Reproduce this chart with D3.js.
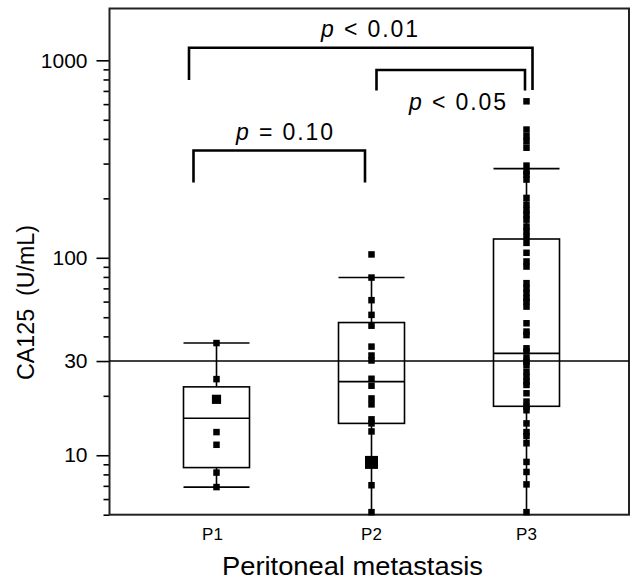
<!DOCTYPE html>
<html>
<head>
<meta charset="utf-8">
<script src="https://cdn.jsdelivr.net/npm/d3@7"></script>
<style>
  body { margin: 0; background: #fff; }
  text { font-family: "Liberation Sans", Arial, sans-serif; fill: #000; }
</style>
</head>
<body>
<div class="chart"></div>
<script>
// groups and box statistics (CA125, U/mL)
const groups = ["P1", "P2", "P3"];
const whiskerLow = [6.9, 5, 5];
const q1 = [8.66, 14.5, 17.7];
const medians = [15.4, 23.6, 32.8];
const q3 = [22.2, 47, 124.5];
const whiskerHigh = [37, 79.4, 283];
const cutoff = 30;

// individual patients (repeated values = overlapping points)
const p1Values = [37, 24.3, 19.2, 19.2, 13.1, 11.3, 8.17, 6.9];
const p2Values = [104, 79.4, 61, 51.4, 45.3, 35.5, 32, 30.2, 24.4, 22.5, 19.4, 18.1,
  15.2, 14.5, 13.2, 9.2, 9.2, 9.2, 9.2, 7.05, 5.15];
const p3Values = [620, 446, 413, 389, 361, 293, 274, 264, 249, 201, 186, 174, 165, 156,
  144, 136, 128, 119, 106, 95.8, 90.3, 74.4, 70.2, 66.2, 62.4, 60, 56.6, 46.6, 42.3,
  40.6, 34.8, 33.5, 31, 29.8, 28.6, 26.5, 25, 23.6, 22.7, 20.6, 18.7, 17.6, 16.9, 14.5,
  13.1, 12.5, 11.5, 9.25, 8.23, 7.12, 5.15];

const yTickValues = [10, 30, 100, 1000];
const comparisons = [
  { from: "P1", to: "P3", label: "0.01", op: "<" },
  { from: "P2", to: "P3", label: "0.05", op: "<" },
  { from: "P1", to: "P2", label: "0.10", op: "=" }
];

function init() {
  createChart(".chart");
}

function createChart(id) {
  const W = 633, H = 581;
  const margin = { top: 8.5, right: 4, bottom: 66.3, left: 109.5 };
  const width = W - margin.left - margin.right;
  const height = H - margin.top - margin.bottom;

  const svg = d3.select(id).append("svg")
    .attr("width", W)
    .attr("height", H)
    .append("g")
    .attr("transform", `translate(${margin.left},${margin.top})`);

  const x = d3.scalePoint().domain(groups).range([107, 417]);
  const y = d3.scaleLog().domain([5, 1830]).range([height, 0]);
  const boxW = 66;

  // minor ticks (2..9 of each decade)
  const minor = [];
  [1, 10, 100, 1000].forEach(d => {
    for (let k = 2; k <= 9; k++) {
      const v = d * k;
      if (v >= 5 && v <= 1830 && !yTickValues.includes(v)) minor.push(v);
    }
  });
  svg.append("g")
    .call(d3.axisLeft(y).tickValues(minor).tickSize(6).tickFormat(""))
    .call(g => g.select(".domain").remove())
    .selectAll("line").attr("stroke-width", 1.6);

  const yAxis = svg.append("g")
    .call(d3.axisLeft(y).tickValues(yTickValues).tickSize(13).tickPadding(9).tickFormat(d3.format("d")));
  yAxis.select(".domain").remove();
  yAxis.selectAll("line").attr("stroke-width", 1.6);
  yAxis.selectAll("text").style("font-size", "21px");

  // frame
  svg.append("rect")
    .attr("width", width).attr("height", height)
    .attr("fill", "none").attr("stroke", "#222").attr("stroke-width", 2);

  // x tick labels
  svg.append("g").selectAll("text")
    .data(groups).join("text")
    .attr("x", d => x(d) - (d === "P1" ? 4 : 0))
    .attr("y", height + 25)
    .attr("text-anchor", "middle")
    .style("font-size", "17px")
    .text(d => d);

  // 30 U/mL cutoff
  svg.append("line")
    .attr("x1", 0).attr("x2", width)
    .attr("y1", y(cutoff)).attr("y2", y(cutoff))
    .attr("stroke", "#000").attr("stroke-width", 1.6);

  // boxes
  const stats = groups.map((g, i) => ({
    g, lo: whiskerLow[i], q1: q1[i], med: medians[i], q3: q3[i], hi: whiskerHigh[i]
  }));
  const box = svg.append("g").selectAll("g").data(stats).join("g")
    .attr("stroke", "#000").attr("stroke-width", 1.6).attr("fill", "none");
  box.append("line")
    .attr("x1", d => x(d.g)).attr("x2", d => x(d.g))
    .attr("y1", d => y(d.hi)).attr("y2", d => y(d.q3));
  box.append("line")
    .attr("x1", d => x(d.g)).attr("x2", d => x(d.g))
    .attr("y1", d => y(d.q1)).attr("y2", d => y(d.lo));
  box.append("rect")
    .attr("x", d => x(d.g) - boxW / 2).attr("width", boxW)
    .attr("y", d => y(d.q3)).attr("height", d => y(d.q1) - y(d.q3));
  box.append("line")
    .attr("x1", d => x(d.g) - boxW / 2).attr("x2", d => x(d.g) + boxW / 2)
    .attr("y1", d => y(d.med)).attr("y2", d => y(d.med));
  box.append("line")
    .attr("x1", d => x(d.g) - boxW / 2).attr("x2", d => x(d.g) + boxW / 2)
    .attr("y1", d => y(d.hi)).attr("y2", d => y(d.hi));
  box.filter(d => d.lo > 5).append("line")
    .attr("x1", d => x(d.g) - boxW / 2).attr("x2", d => x(d.g) + boxW / 2)
    .attr("y1", d => y(d.lo)).attr("y2", d => y(d.lo));

  // points, overlapping values drawn as bigger squares
  const points = [];
  [p1Values, p2Values, p3Values].forEach((vals, i) => {
    d3.rollups(vals, v => v.length, v => v).forEach(([v, n]) => points.push({ g: groups[i], v, n }));
  });
  const size = n => 6.5 * Math.sqrt(n);
  svg.append("g").selectAll("rect").data(points).join("rect")
    .attr("x", d => x(d.g) - size(d.n) / 2)
    .attr("y", d => y(d.v) - size(d.n) / 2)
    .attr("width", d => size(d.n)).attr("height", d => size(d.n))
    .attr("fill", "#000");

  // significance brackets
  const br = [
    { x1: x("P1") - 27.5, x2: x("P3") + 6, top: 39.2, l1: 71.5, l2: 81.5, tx: 260, ty: 28.5 },
    { x1: x("P2") + 5, x2: x("P3") - 1.5, top: 61.5, l1: 82, l2: 82, tx: 348, ty: 101.5 },
    { x1: x("P1") - 23, x2: x("P2") - 6.5, top: 142, l1: 174, l2: 174, tx: 175, ty: 131.5 }
  ];
  comparisons.forEach((c, i) => {
    const b = br[i];
    svg.append("path")
      .attr("d", `M${b.x1},${b.l1}V${b.top}H${b.x2}V${b.l2}`)
      .attr("fill", "none").attr("stroke", "#000").attr("stroke-width", 2.6);
    const t = svg.append("text")
      .attr("x", b.tx).attr("y", b.ty)
      .attr("text-anchor", "middle")
      .attr("textLength", 97).attr("lengthAdjust", "spacing")
      .style("font-size", "23px");
    t.append("tspan").style("font-style", "italic").text("p");
    t.append("tspan").text(` ${c.op} ${c.label}`);
  });

  // axis titles
  svg.append("text")
    .attr("x", 243).attr("y", height + 60)
    .attr("text-anchor", "middle")
    .attr("textLength", 261).attr("lengthAdjust", "spacingAndGlyphs")
    .style("font-size", "26px")
    .text("Peritoneal metastasis");
  svg.append("text")
    .attr("transform", `translate(${-76},${294}) rotate(-90)`)
    .attr("text-anchor", "middle")
    .attr("textLength", 155).attr("lengthAdjust", "spacingAndGlyphs")
    .style("font-size", "23px")
    .style("white-space", "pre")
    .text("CA125  (U/mL)");
}

init();
</script>
</body>
</html>
